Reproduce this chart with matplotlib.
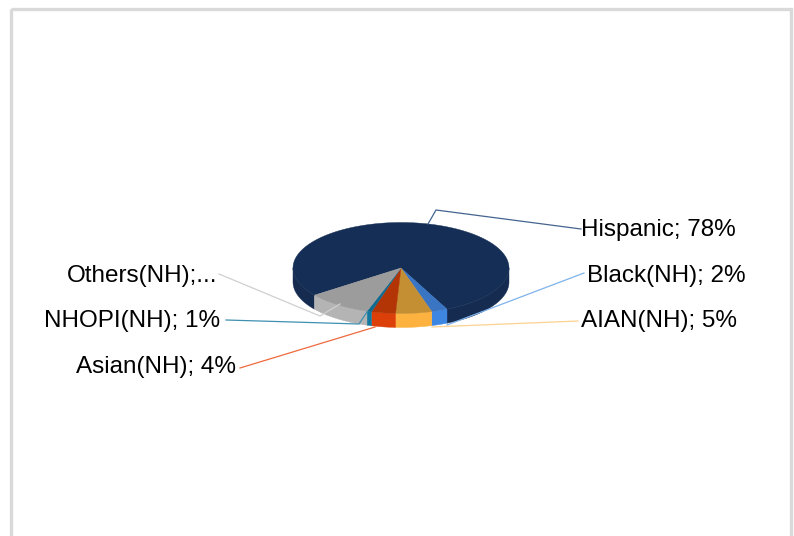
import numpy as np
import matplotlib
matplotlib.use("Agg")
import matplotlib.pyplot as plt
from matplotlib.patches import Polygon, Rectangle

plt.rcParams['font.family'] = ['Liberation Sans', 'DejaVu Sans']

# clockwise from the Hispanic slice
categories = ["Hispanic", "Black(NH)", "AIAN(NH)", "Asian(NH)", "NHOPI(NH)", "Others(NH)"]
values = [78.2, 2.4, 5.4, 3.6, 0.7, 9.7]
labels = ["Hispanic; 78%", "Black(NH); 2%", "AIAN(NH); 5%", "Asian(NH); 4%", "NHOPI(NH); 1%", "Others(NH);..."]

top_colors = ["#152e55", "#3a75c4", "#c48e32", "#b33506", "#0e6a8e", "#9c9c9c"]
side_colors = ["#152b50", "#3d86e2", "#fdb13f", "#dc3f08", "#11789f", "#b4b4b4"]
line_colors = ["#44648f", "#7fb2ea", "#fbd28f", "#ee6a3e", "#3f8fb0", "#cfcfcf"]

# pie geometry in pixels
cx, cy = 401, 268
rx, ry = 108, 45.5
depth = 14


def ellipsePoints(a0, a1):
    t = np.radians(np.linspace(a0, a1, max(int(abs(a1 - a0)) + 2, 3)))
    return np.column_stack([cx + rx * np.cos(t), cy + ry * np.sin(t)])


fig = plt.figure(figsize=(7.94, 5.36), dpi=100)
ax = fig.add_axes([0, 0, 1, 1])
ax.set_xlim(0, 794)
ax.set_ylim(536, 0)
ax.axis("off")

# frame, open at the bottom of the crop
ax.add_patch(Rectangle((11, 9), 780, 540, fill=False, edgecolor="#d9d9d9", linewidth=2.4))

# y axis points down so positive angles are the front of the pie
angles = []
a = 64.8 - values[0] * 3.6
for v in values:
    angles.append((a, a + v * 3.6))
    a = a + v * 3.6

# side walls, only the part facing us
for i in range(len(values)):
    a0, a1 = angles[i]
    for lo, hi in [(a0, a1), (a0 + 360, a1 + 360)]:
        lo = max(lo, 0)
        hi = min(hi, 180)
        if hi <= lo:
            continue
        pts = ellipsePoints(lo, hi)
        wall = np.vstack([pts, pts[::-1] + [0, depth]])
        ax.add_patch(Polygon(wall, closed=True, facecolor=side_colors[i],
                             edgecolor=side_colors[i], linewidth=0.3, zorder=2))

# top faces
for i in range(len(values)):
    a0, a1 = angles[i]
    pts = np.vstack([[cx, cy], ellipsePoints(a0, a1)])
    ax.add_patch(Polygon(pts, closed=True, facecolor=top_colors[i],
                         edgecolor=top_colors[i], linewidth=0.3, zorder=3))

# leader lines
leaders = [
    ([581, 436, 428], [229, 210, 224]),
    ([584, 447], [273, 325]),
    ([578, 432], [321, 327]),
    ([240, 375], [368, 327]),
    ([226, 359, 367], [320, 324, 312]),
    ([219, 320, 340], [274, 316, 304]),
]
for i in range(len(leaders)):
    ax.plot(leaders[i][0], leaders[i][1], color=line_colors[i], linewidth=0.9, zorder=4)

# data labels
label_pos = [(581, 230, "left"), (587, 276, "left"), (581, 321, "left"),
             (236, 367, "right"), (220, 321, "right"), (217, 276, "right")]
for i in range(len(labels)):
    x, y, ha = label_pos[i]
    ax.text(x, y, labels[i], fontsize=17.5, color="black", ha=ha, va="center", zorder=5)

fig.savefig("out.png", dpi=100)
